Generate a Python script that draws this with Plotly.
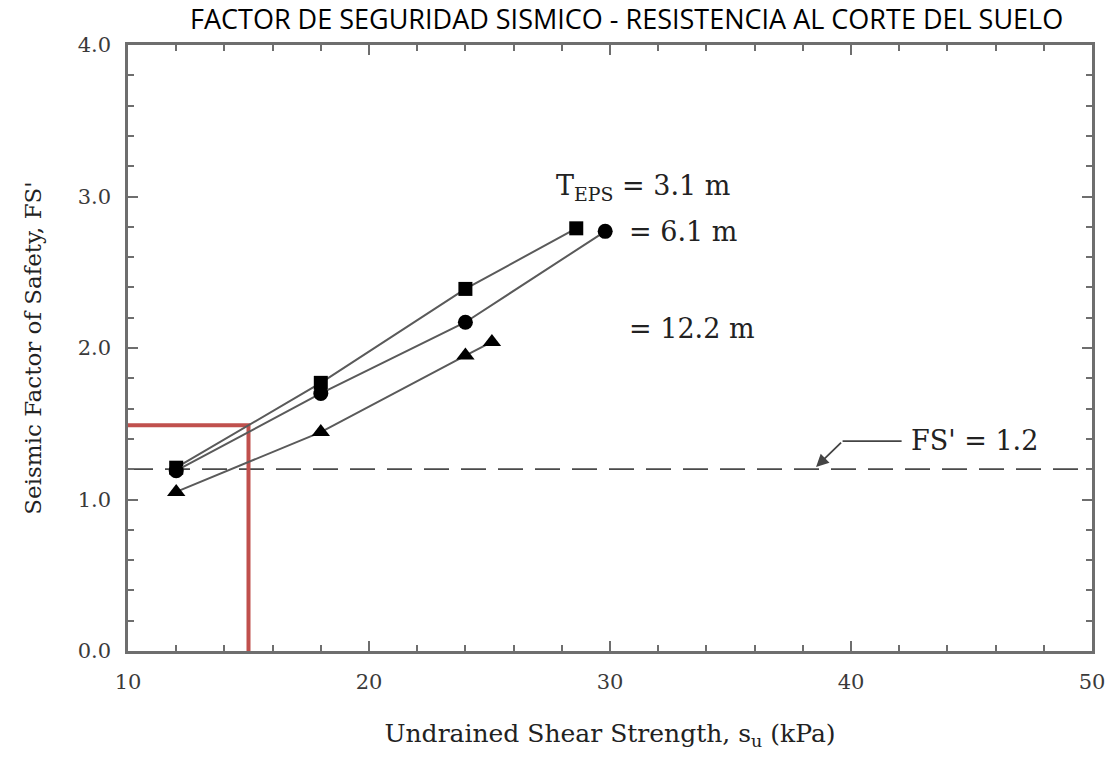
import plotly.graph_objects as go

# Data
su_31 = [12, 18, 24, 28.6]
fs_31 = [1.21, 1.77, 2.39, 2.79]
su_61 = [12, 18, 24, 29.8]
fs_61 = [1.19, 1.70, 2.17, 2.77]
su_122 = [12, 18, 24, 25.1]
fs_122 = [1.05, 1.445, 1.95, 2.04]
fs_limit = 1.2
red_x = 15
red_y = 1.49
x_ticks = [10, 20, 30, 40, 50]
y_ticks = [0.0, 1.0, 2.0, 3.0, 4.0]

SERIF = "DejaVu Serif, Liberation Serif, serif"
LINE_C = "#5a5a5a"
AX_C = "#6e6e6e"

fig = go.Figure()

# FS' = 1.2 dashed line
fig.add_trace(go.Scatter(x=[10, 50], y=[fs_limit, fs_limit], mode="lines",
                         line=dict(color="#4a4a4a", width=1.8, dash="25px,12px"),
                         showlegend=False, hoverinfo="skip"))

# red reference lines
fig.add_trace(go.Scatter(x=[10, red_x, red_x], y=[red_y, red_y, 0], mode="lines",
                         line=dict(color="#c0504d", width=4),
                         showlegend=False, hoverinfo="skip"))

series = [
    (su_31, fs_31, "square", "T_EPS = 3.1 m", 14),
    (su_61, fs_61, "circle", "T_EPS = 6.1 m", 15),
    (su_122, fs_122, "triangle-up", "T_EPS = 12.2 m", 16),
]
for xs, ys, sym, name, sz in series:
    fig.add_trace(go.Scatter(x=xs, y=ys, mode="lines+markers", name=name,
                             line=dict(color=LINE_C, width=2),
                             marker=dict(symbol=sym, size=sz, color="black"),
                             showlegend=False))

# leader for FS' label
fig.add_shape(type="line", x0=39.65, y0=1.385, x1=42.1, y1=1.385,
              line=dict(color="#444444", width=1.8))
fig.add_annotation(x=38.55, y=1.215, ax=39.65, ay=1.385, axref="x", ayref="y",
                   xref="x", yref="y", text="", showarrow=True,
                   arrowhead=2, arrowsize=1.4, arrowwidth=1.8, arrowcolor="#444444")

labels = [
    (27.68, 3.06, "T<sub>EPS</sub> = 3.1 m"),
    (30.7, 2.77, "= 6.1 m"),
    (30.7, 2.13, "= 12.2 m"),
    (42.4, 1.39, "FS' = 1.2"),
]
for x, y, t in labels:
    fig.add_annotation(x=x, y=y, xref="x", yref="y", text=t, showarrow=False,
                       xanchor="left", yanchor="middle",
                       font=dict(family=SERIF, size=27, color="#222222"))

axis_common = dict(
    showgrid=False, zeroline=False, showline=True, linecolor=AX_C, linewidth=2.5,
    mirror="ticks", ticks="inside", ticklen=10, tickwidth=2, tickcolor=AX_C,
    tickfont=dict(family=SERIF, size=21, color="#3a3a3a"),
    ticklabelstandoff=10,
)

fig.update_xaxes(range=[10, 50], tickvals=x_ticks, ticktext=[str(v) for v in x_ticks],
                 minor=dict(dtick=2, ticks="inside", ticklen=6, tickwidth=2, tickcolor=AX_C),
                 title=dict(text="Undrained Shear Strength, s<sub>u</sub> (kPa)",
                            font=dict(family=SERIF, size=25, color="#222222"), standoff=32),
                 **axis_common)
fig.update_yaxes(range=[0, 4], tickvals=y_ticks, ticktext=[f"{v:.1f}" for v in y_ticks],
                 minor=dict(dtick=0.2, ticks="inside", ticklen=6, tickwidth=2, tickcolor=AX_C),
                 title=dict(text="Seismic Factor of Safety, FS'",
                            font=dict(family=SERIF, size=23, color="#222222"), standoff=30),
                 **axis_common)

fig.update_layout(
    width=1117, height=758,
    margin=dict(l=128, r=19, t=45, b=107),
    paper_bgcolor="white", plot_bgcolor="white",
    title=dict(text="FACTOR DE SEGURIDAD SISMICO - RESISTENCIA AL CORTE DEL SUELO",
               x=0.561, xanchor="center", y=0.974, yanchor="middle",
               font=dict(family="Open Sans, Noto Sans, sans-serif", size=27, color="black")),
    showlegend=False,
)

fig.write_html("out.html")
